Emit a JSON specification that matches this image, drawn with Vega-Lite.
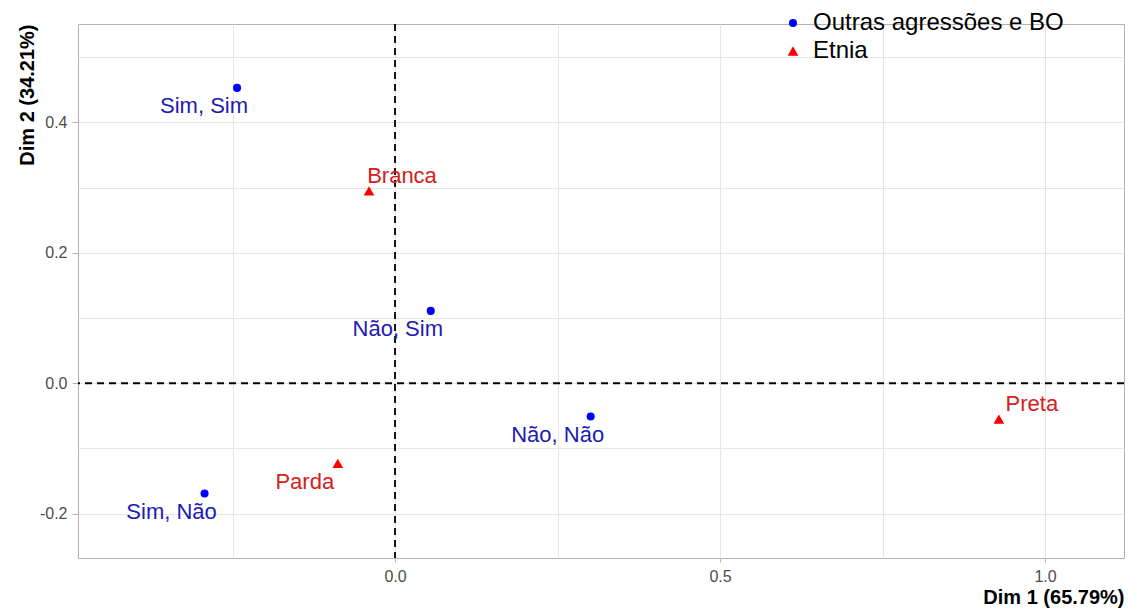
{
  "$schema": "https://vega.github.io/schema/vega-lite/v6.json",
  "width": 1046,
  "height": 534,
  "autosize": {"type": "none"},
  "padding": {"left": 78, "top": 24, "right": 5, "bottom": 51},
  "background": "white",
  "config": {
    "font": "Liberation Sans",
    "view": {"stroke": "#b3b3b3", "strokeWidth": 1}
  },
  "data": {
    "values": [
      {"rotulo": "Sim, Sim", "grupo": "Outras agressões e BO", "dim1": -0.243, "dim2": 0.453},
      {"rotulo": "Não, Sim", "grupo": "Outras agressões e BO", "dim1": 0.055, "dim2": 0.111},
      {"rotulo": "Não, Não", "grupo": "Outras agressões e BO", "dim1": 0.301, "dim2": -0.051},
      {"rotulo": "Sim, Não", "grupo": "Outras agressões e BO", "dim1": -0.293, "dim2": -0.169},
      {"rotulo": "Branca", "grupo": "Etnia", "dim1": -0.040, "dim2": 0.295},
      {"rotulo": "Parda", "grupo": "Etnia", "dim1": -0.088, "dim2": -0.123},
      {"rotulo": "Preta", "grupo": "Etnia", "dim1": 0.929, "dim2": -0.055}
    ]
  },
  "layer": [
    {
      "mark": {"type": "point", "filled": true, "opacity": 1},
      "encoding": {
        "x": {
          "field": "dim1", "type": "quantitative",
          "scale": {"domain": [-0.4877, 1.1215], "nice": false, "zero": false},
          "axis": {
            "title": "Dim 1 (65.79%)",
            "values": [-0.25, 0, 0.25, 0.5, 0.75, 1],
            "labelExpr": "round(datum.value*4) % 2 == 0 ? format(datum.value, '.1f') : ''",
            "domain": false,
            "grid": true,
            "gridColor": "#e6e6e6",
            "tickColor": "#b3b3b3",
            "tickOpacity": {"condition": {"test": "round(datum.value*4) % 2 == 0", "value": 1}, "value": 0},
            "tickSize": 4,
            "labelFontSize": 16,
            "labelColor": "#4d4d4d",
            "labelBaseline": "alphabetic",
            "labelPadding": 19,
            "labelFlush": false,
            "labelOverlap": false,
            "titleX": 1046,
            "titleY": 45,
            "titleAlign": "right",
            "titleBaseline": "alphabetic",
            "titleFontSize": 20,
            "titleFontWeight": "bold",
            "titleColor": "black"
          }
        },
        "y": {
          "field": "dim2", "type": "quantitative",
          "scale": {"domain": [-0.268, 0.551], "nice": false, "zero": false},
          "axis": {
            "title": "Dim 2 (34.21%)",
            "values": [-0.2, -0.1, 0, 0.1, 0.2, 0.3, 0.4, 0.5],
            "labelExpr": "round(datum.value*10) % 2 == 0 ? (datum.value < 0 ? '-' + format(-datum.value, '.1f') : format(datum.value, '.1f')) : ''",
            "domain": false,
            "grid": true,
            "gridColor": "#e6e6e6",
            "tickColor": "#b3b3b3",
            "tickOpacity": {"condition": {"test": "round(datum.value*10) % 2 == 0", "value": 1}, "value": 0},
            "tickSize": 6,
            "labelFontSize": 16,
            "labelColor": "#4d4d4d",
            "labelPadding": 5,
            "labelOverlap": false,
            "titleX": -45,
            "titleY": 0,
            "titleAngle": 270,
            "titleAlign": "right",
            "titleBaseline": "alphabetic",
            "titleFontSize": 20,
            "titleFontWeight": "bold",
            "titleColor": "black"
          }
        },
        "color": {
          "field": "grupo", "type": "nominal",
          "scale": {"domain": ["Outras agressões e BO", "Etnia"], "range": ["#0000ff", "#ff0000"]},
          "legend": {"title": null, "orient": "none", "legendX": 703, "legendY": -13, "padding": 0, "labelFontSize": 24, "labelColor": "black", "labelOffset": 8, "symbolSize": 70, "rowPadding": 4, "labelLimit": 400, "symbolStrokeWidth": 0}
        },
        "shape": {
          "field": "grupo", "type": "nominal",
          "scale": {"domain": ["Outras agressões e BO", "Etnia"], "range": ["circle", "triangle-up"]},
          "legend": {"title": null, "orient": "none", "legendX": 703, "legendY": -13, "padding": 0, "labelFontSize": 24, "labelColor": "black", "labelOffset": 8, "symbolSize": 70, "rowPadding": 4, "labelLimit": 400, "symbolStrokeWidth": 0}
        },
        "size": {
          "field": "grupo", "type": "nominal",
          "scale": {"domain": ["Outras agressões e BO", "Etnia"], "range": [65, 115]},
          "legend": null
        }
      }
    },
    {
      "data": {"values": [{}]},
      "mark": {"type": "rule", "strokeDash": [7, 5], "strokeWidth": 1.8, "color": "black"},
      "encoding": {
        "x": {"datum": 0, "type": "quantitative"}
      }
    },
    {
      "data": {"values": [{}]},
      "mark": {"type": "rule", "strokeDash": [7, 5], "strokeWidth": 1.8, "color": "black"},
      "encoding": {
        "y": {"datum": 0, "type": "quantitative"}
      }
    },
    {
      "transform": [{"filter": {"not": {"field": "rotulo", "oneOf": ["Branca", "Preta"]}}}],
      "mark": {"type": "text", "align": "center", "baseline": "alphabetic", "dx": -33, "dy": 25.5, "fontSize": 22},
      "encoding": {
        "x": {"field": "dim1", "type": "quantitative"},
        "y": {"field": "dim2", "type": "quantitative"},
        "text": {"field": "rotulo"},
        "fill": {"field": "grupo", "type": "nominal", "scale": {"domain": ["Outras agressões e BO", "Etnia"], "range": ["#1c1cb4", "#d42020"]}, "legend": null}
      }
    },
    {
      "transform": [{"filter": {"field": "rotulo", "oneOf": ["Branca", "Preta"]}}],
      "mark": {"type": "text", "align": "center", "baseline": "alphabetic", "dx": 33, "dy": -8.3, "fontSize": 22},
      "encoding": {
        "x": {"field": "dim1", "type": "quantitative"},
        "y": {"field": "dim2", "type": "quantitative"},
        "text": {"field": "rotulo"},
        "fill": {"field": "grupo", "type": "nominal", "scale": {"domain": ["Outras agressões e BO", "Etnia"], "range": ["#1c1cb4", "#d42020"]}, "legend": null}
      }
    }
  ]
}
